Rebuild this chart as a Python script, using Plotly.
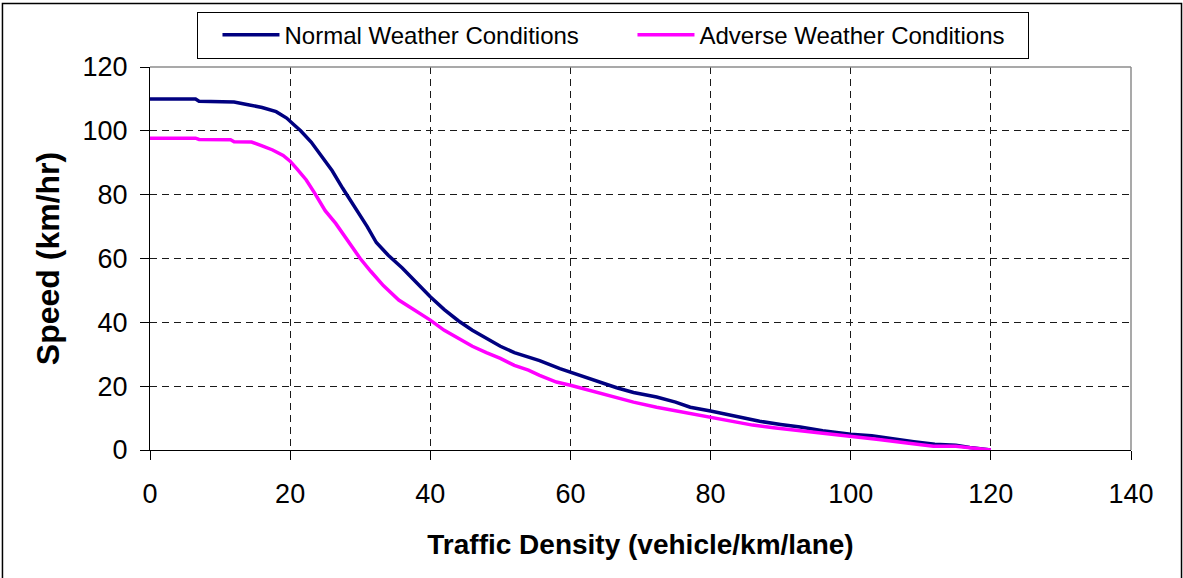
import plotly.graph_objects as go

# Traffic density (vehicle/km/lane) and speed (km/hr)
normal_x = [0, 6.5, 7, 12, 14, 16, 18, 19.5, 20.5, 21.5, 23, 24.5, 26, 27.5, 29, 31,
            32.3, 34, 36, 38, 40, 42, 44, 46, 48, 50, 52, 54, 55.6, 58.5, 60, 62.5,
            64, 66.6, 69, 72.3, 75, 77.1, 80, 82, 84.2, 87, 90, 92.8, 96, 100, 103,
            106, 109, 112, 115, 117, 120]
normal_y = [110, 110, 109.3, 109, 108.2, 107.3, 106, 104, 102, 100, 96.5, 92, 87.5, 82,
            77, 70, 65, 61, 57, 52.5, 48, 44, 40.5, 37.5, 35, 32.5, 30.5, 29, 28, 25.5,
            24.4, 22.4, 21.5, 19.5, 18, 16.6, 15, 13.4, 12.2, 11.3, 10.3, 9, 8, 7.2, 6,
            4.9, 4.5, 3.5, 2.6, 1.8, 1.5, 0.8, 0]

adverse_x = [0, 6.5, 7, 11.5, 12, 14.5, 16, 17.5, 19, 20, 21, 22.3, 23.5, 25, 26.5, 28.5,
             30, 31.5, 33.3, 35.5, 37.6, 40, 42, 44, 46, 48, 50, 52, 54, 55.6, 58, 60,
             63, 66.6, 69, 72.3, 75, 78, 80, 83, 86, 89, 92.8, 96, 100, 104, 108, 111.8,
             115, 117, 120]
adverse_y = [97.7, 97.7, 97.3, 97.2, 96.6, 96.5, 95.3, 94, 92.3, 90.5, 88, 84.6, 80.5, 75,
             71, 64.5, 60, 56, 51.5, 47, 44, 40.7, 37.5, 35, 32.5, 30.5, 28.7, 26.5, 25,
             23.4, 21.3, 20.3, 18.5, 16.4, 15, 13.4, 12.3, 11, 10.3, 9, 7.8, 7, 6.1, 5.2,
             4.3, 3.3, 2.2, 1.2, 1.2, 0.7, 0]

series_names = ["Normal Weather Conditions", "Adverse Weather Conditions"]
x_ticks = [0, 20, 40, 60, 80, 100, 120, 140]
y_ticks = [0, 20, 40, 60, 80, 100, 120]

FONT = "Arial, Liberation Sans, sans-serif"

fig = go.Figure()
fig.add_trace(go.Scatter(x=normal_x, y=normal_y, mode="lines", name=series_names[0],
                         line=dict(color="#000080", width=3.5)))
fig.add_trace(go.Scatter(x=adverse_x, y=adverse_y, mode="lines", name=series_names[1],
                         line=dict(color="#FF00FF", width=3.5)))

fig.update_layout(
    width=1183, height=578,
    margin=dict(l=150, r=52, t=67, b=128),
    paper_bgcolor="white", plot_bgcolor="white",
    font=dict(family=FONT, color="black"),
    showlegend=True,
    legend=dict(
        orientation="h", x=0.0484, y=1.1447, xanchor="left", yanchor="top",
        bordercolor="black", borderwidth=1, bgcolor="white",
        font=dict(size=24, family=FONT), itemwidth=57,
        entrywidth=324, entrywidthmode="pixels", indentation=19,
    ),
    xaxis=dict(
        range=[0, 140], tickvals=x_ticks, ticktext=[str(v) for v in x_ticks],
        showline=True, linecolor="black", linewidth=1,
        ticks="outside", ticklen=9, tickcolor="black", tickwidth=1,
        ticklabelstandoff=11,
        showgrid=True, gridcolor="#1a1a1a", gridwidth=1, griddash="7px,5px",
        zeroline=False, tickfont=dict(size=27),
        title=dict(text="<b>Traffic Density (vehicle/km/lane)</b>",
                   font=dict(size=28), standoff=25),
        automargin=False,
    ),
    yaxis=dict(
        range=[0, 120], tickvals=y_ticks, ticktext=[str(v) for v in y_ticks],
        showline=True, linecolor="black", linewidth=1,
        ticks="outside", ticklen=9, tickcolor="black", tickwidth=1,
        ticklabelstandoff=7,
        showgrid=True, gridcolor="#1a1a1a", gridwidth=1, griddash="7px,5px",
        zeroline=False, tickfont=dict(size=27),
        title=dict(text="<b>Speed (km/hr)</b>", font=dict(size=32), standoff=13),
        automargin=False,
    ),
    shapes=[
        # gray top and right border of plot area
        dict(type="line", xref="paper", yref="paper", x0=0, x1=1, y0=1, y1=1,
             line=dict(color="#8c8c8c", width=1.5), layer="above"),
        dict(type="line", xref="paper", yref="paper", x0=1, x1=1, y0=0, y1=1,
             line=dict(color="#8c8c8c", width=1.5), layer="above"),
        # outer chart frame
        dict(type="rect", xref="paper", yref="paper", x0=-0.1504, x1=1.0515,
             y0=-0.342, y1=1.1656, line=dict(color="black", width=1.5),
             fillcolor="rgba(0,0,0,0)", layer="above"),
    ],
)

fig.write_html("out.html", config={"displayModeBar": False},
               post_script="document.body.style.margin='0';")
